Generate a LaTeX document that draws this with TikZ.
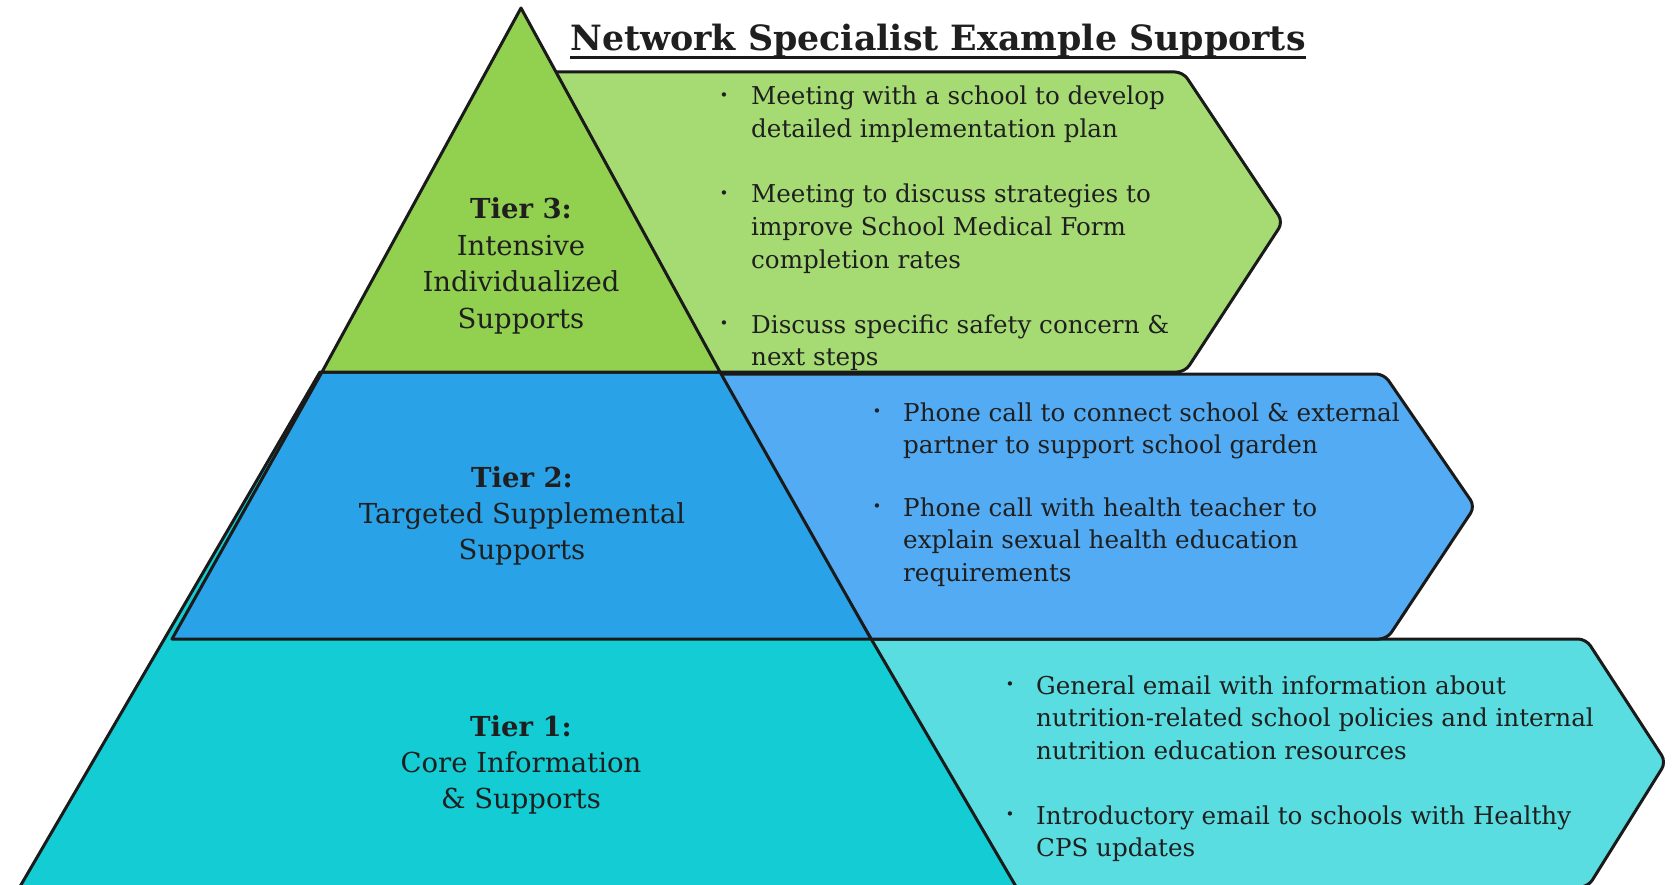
\documentclass[tikz,border=0pt]{standalone}
\usepackage{fontspec}
\setmainfont{DejaVu Serif}
\definecolor{tierthree}{HTML}{92D050}
\definecolor{arrowthree}{HTML}{A6DB74}
\definecolor{tiertwo}{HTML}{29A2E8}
\definecolor{arrowtwo}{HTML}{53ABF3}
\definecolor{tierone}{HTML}{13CCD4}
\definecolor{arrowone}{HTML}{5ADDE0}
\definecolor{ink}{HTML}{1F1F1F}
\definecolor{edge}{HTML}{1A1A1A}
\newcommand{\itembox}[1]{\parbox[t]{700pt}{\raggedright\fontsize{24.6pt}{32.6pt}\selectfont #1}}
\newcommand{\tierbox}[1]{\parbox[t]{420pt}{\centering\fontsize{27.5pt}{36.4pt}\selectfont #1}}
\tikzset{
  shapeline/.style={draw=edge, line width=3pt, line join=round},
  arrowshape/.style={shapeline, rounded corners=8pt},
  itemnode/.style={anchor=base west, inner sep=0pt, text=ink},
  bulnode/.style={anchor=center, inner sep=0pt, text=ink, font=\fontsize{15pt}{15pt}\selectfont},
  tiernode/.style={anchor=base, inner sep=0pt, text=ink},
}
\begin{document}
\begin{tikzpicture}[x=1pt, y=-1pt]
\useasboundingbox (0,0) rectangle (1678,885);
\clip (0,0) rectangle (1678,885);
\fill[white] (0,0) rectangle (1678,885);

% example-support arrows, behind the pyramid
\draw[arrowshape, fill=arrowone] (700,639) -- (1586,639) -- (1666,762) -- (1588,887) -- (700,887) -- cycle;
\draw[arrowshape, fill=arrowtwo] (600,374) -- (1384,374) -- (1475,506.5) -- (1387,639) -- (600,639) -- cycle;
\draw[arrowshape, fill=arrowthree] (540,72) -- (1183,72) -- (1283,222) -- (1185,372) -- (540,372) -- cycle;

% pyramid tiers
\draw[shapeline, fill=tierone] (18,890) -- (320,372) -- (715,372) -- (1018,890) -- cycle;
\draw[shapeline, fill=tiertwo] (322,372) -- (720,372) -- (871,639) -- (172,639) -- cycle;
\draw[shapeline, fill=tierthree] (521,8) -- (720,372) -- (322,372) -- cycle;

% title
\node[anchor=base, inner sep=0pt, text=ink, font=\fontsize{34.8pt}{40pt}\selectfont\bfseries] (title) at (938,51) {Network Specialist Example Supports};
\draw[edge, line width=3pt] ([yshift=-7pt]title.base west) -- ([yshift=-7pt]title.base east);

% tier labels
\node[tiernode] (t3) at (521,219) {\tierbox{\textbf{Tier 3:}\\Intensive\\Individualized\\Supports}};
\node[tiernode] (t2) at (522,487) {\tierbox{\textbf{Tier 2:}\\Targeted Supplemental\\Supports}};
\node[tiernode] (t1) at (521,736) {\tierbox{\textbf{Tier 1:}\\Core Information\\\& Supports}};

% tier 3 examples
\node[bulnode] (g1b) at (724,97) {•};
\node[itemnode] (g1) at (751,105) {\itembox{Meeting with a school to develop\\detailed implementation plan}};
\node[bulnode] (g2b) at (724,195) {•};
\node[itemnode] (g2) at (751,203) {\itembox{Meeting to discuss strategies to\\improve School Medical Form\\completion rates}};
\node[bulnode] (g3b) at (724,325) {•};
\node[itemnode] (g3) at (751,333) {\itembox{Discuss specific safety concern \&\\next steps}};

% tier 2 examples
\node[bulnode] (b1b) at (877,413) {•};
\node[itemnode] (b1) at (903,421) {\itembox{Phone call to connect school \& external\\partner to support school garden}};
\node[bulnode] (b2b) at (877,508) {•};
\node[itemnode] (b2) at (903,516) {\itembox{Phone call with health teacher to\\explain sexual health education\\requirements}};

% tier 1 examples
\node[bulnode] (c1b) at (1010,686) {•};
\node[itemnode] (c1) at (1036,694) {\itembox{General email with information about\\nutrition-related school policies and internal\\nutrition education resources}};
\node[bulnode] (c2b) at (1010,816) {•};
\node[itemnode] (c2) at (1036,824) {\itembox{Introductory email to schools with Healthy\\CPS updates}};
\end{tikzpicture}
\end{document}
